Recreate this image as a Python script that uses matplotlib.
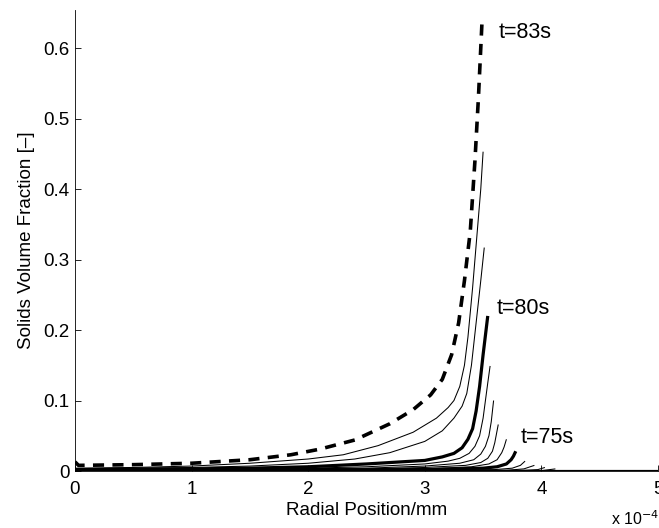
import numpy as np
import matplotlib.pyplot as plt
from matplotlib.ticker import FuncFormatter

plt.rcParams['font.family'] = ['Liberation Sans', 'DejaVu Sans']
plt.rcParams['lines.scale_dashes'] = False

# radial positions in units of 1e-4 m, solids volume fraction per time step
r_83 = [0.0, 0.03, 0.5, 1.0, 1.5, 1.85, 2.1, 2.4, 2.7, 2.9, 3.05, 3.15, 3.23, 3.29, 3.34, 3.39, 3.43, 3.46, 3.49]
phi_83 = [0.013, 0.008, 0.009, 0.011, 0.016, 0.023, 0.031, 0.044, 0.067, 0.087, 0.108, 0.13, 0.165, 0.21, 0.27, 0.34, 0.44, 0.53, 0.635]

r_82 = [0.0, 0.5, 1.0, 1.5, 2.0, 2.3, 2.6, 2.9, 3.1, 3.2, 3.25, 3.3, 3.34, 3.37, 3.41, 3.45, 3.48, 3.5]
phi_82 = [0.004, 0.005, 0.007, 0.011, 0.017, 0.023, 0.036, 0.055, 0.075, 0.09, 0.10, 0.12, 0.15, 0.19, 0.26, 0.34, 0.40, 0.453]

r_81 = [0.0, 0.5, 1.0, 1.5, 2.0, 2.4, 2.7, 3.0, 3.15, 3.25, 3.32, 3.36, 3.40, 3.44, 3.48, 3.51]
phi_81 = [0.003, 0.004, 0.005, 0.007, 0.011, 0.017, 0.026, 0.042, 0.057, 0.075, 0.092, 0.11, 0.15, 0.21, 0.27, 0.317]

r_80 = [0.0, 1.0, 1.5, 2.0, 2.5, 2.8, 3.0, 3.15, 3.25, 3.32, 3.37, 3.41, 3.44, 3.47, 3.5, 3.54]
phi_80 = [0.002, 0.003, 0.004, 0.006, 0.010, 0.013, 0.015, 0.020, 0.025, 0.033, 0.045, 0.06, 0.085, 0.12, 0.165, 0.22]

r_79 = [0.0, 2.0, 2.5, 3.0, 3.2, 3.3, 3.38, 3.43, 3.47, 3.5, 3.52, 3.54, 3.56]
phi_79 = [0.001, 0.004, 0.006, 0.010, 0.014, 0.018, 0.025, 0.035, 0.05, 0.075, 0.10, 0.125, 0.149]

r_78 = [0.0, 2.5, 3.0, 3.3, 3.42, 3.48, 3.52, 3.55, 3.57, 3.59]
phi_78 = [0.001, 0.004, 0.007, 0.011, 0.016, 0.024, 0.035, 0.05, 0.07, 0.10]

r_77 = [0.0, 2.5, 3.0, 3.35, 3.48, 3.54, 3.58, 3.6, 3.63]
phi_77 = [0.0005, 0.003, 0.005, 0.008, 0.012, 0.018, 0.028, 0.04, 0.066]

r_76 = [0.0, 3.0, 3.4, 3.55, 3.62, 3.66, 3.68, 3.7]
phi_76 = [0.0005, 0.003, 0.006, 0.010, 0.016, 0.026, 0.034, 0.045]

r_75 = [0.0, 3.0, 3.5, 3.62, 3.7, 3.74, 3.76, 3.78]
phi_75 = [0.0003, 0.002, 0.004, 0.006, 0.010, 0.016, 0.021, 0.028]

r_74 = [0.0, 3.0, 3.6, 3.75, 3.82, 3.86]
phi_74 = [0.0002, 0.001, 0.002, 0.004, 0.008, 0.014]

r_73 = [0.0, 3.7, 3.85, 3.94]
phi_73 = [0.0, 0.001, 0.003, 0.008]

r_72 = [0.0, 3.85, 3.97, 4.03]
phi_72 = [0.0, 0.001, 0.002, 0.005]

r_71 = [0.0, 4.0, 4.12]
phi_71 = [0.0, 0.0005, 0.003]

# initial (empty) profile over the whole domain
r_0 = [0.0, 5.0]
phi_0 = [0.0, 0.0]

thin = dict(color='black', lw=0.75)
thick = dict(color='black', lw=2.3)

profiles = [
    (r_0, phi_0, thick),
    (r_71, phi_71, thin),
    (r_72, phi_72, thin),
    (r_73, phi_73, thin),
    (r_74, phi_74, thin),
    (r_75, phi_75, thick),
    (r_76, phi_76, thin),
    (r_77, phi_77, thin),
    (r_78, phi_78, thin),
    (r_79, phi_79, thin),
    (r_80, phi_80, thick),
    (r_81, phi_81, thin),
    (r_82, phi_82, thin),
]

fig = plt.figure(figsize=(6.59, 5.28), dpi=100)
ax = fig.add_axes([75/659, 57/528, 583/659, 461/528])

for r, phi, style in profiles:
    ax.plot(np.array(r) * 1e-4, phi, solid_capstyle='butt', **style)

ax.plot(np.array(r_83) * 1e-4, phi_83, color='black', lw=2.6,
        linestyle=(0, (8, 6)), dash_capstyle='butt')

ax.text(3.63e-4, 0.622, 't=83s', fontsize=15.5, va='center', ha='left')
ax.text(3.62e-4, 0.23, 't=80s', fontsize=15.5, va='center', ha='left')
ax.text(3.82e-4, 0.048, 't=75s', fontsize=15.5, va='center', ha='left')

ax.set_xlim(0, 5e-4)
ax.set_ylim(0, 0.654)
ax.set_xticks(np.arange(0, 6) * 1e-4)
ax.set_yticks([0, 0.1, 0.2, 0.3, 0.4, 0.5, 0.6])
ax.xaxis.set_major_formatter(FuncFormatter(lambda v, p: f"{v/1e-4:g}"))
ax.yaxis.set_major_formatter(FuncFormatter(lambda v, p: f"{v:g}"))

ax.spines['top'].set_visible(False)
ax.spines['right'].set_visible(False)
ax.spines['left'].set_linewidth(0.6)
ax.spines['bottom'].set_linewidth(0.6)
ax.tick_params(direction='in', length=4, width=0.6, labelsize=13.5)
ax.tick_params(axis='x', pad=7)
ax.tick_params(axis='y', pad=4)

ax.set_xlabel('Radial Position/mm', fontsize=13.5, labelpad=3)
ax.set_ylabel('Solids Volume Fraction [\u2013]', fontsize=13.5, labelpad=6)

fig.text(611/659, 1 - 519/528, r'x 10$^{-4}$', fontsize=11.5, va='center', ha='left')

fig.savefig('out.png', dpi=100)
